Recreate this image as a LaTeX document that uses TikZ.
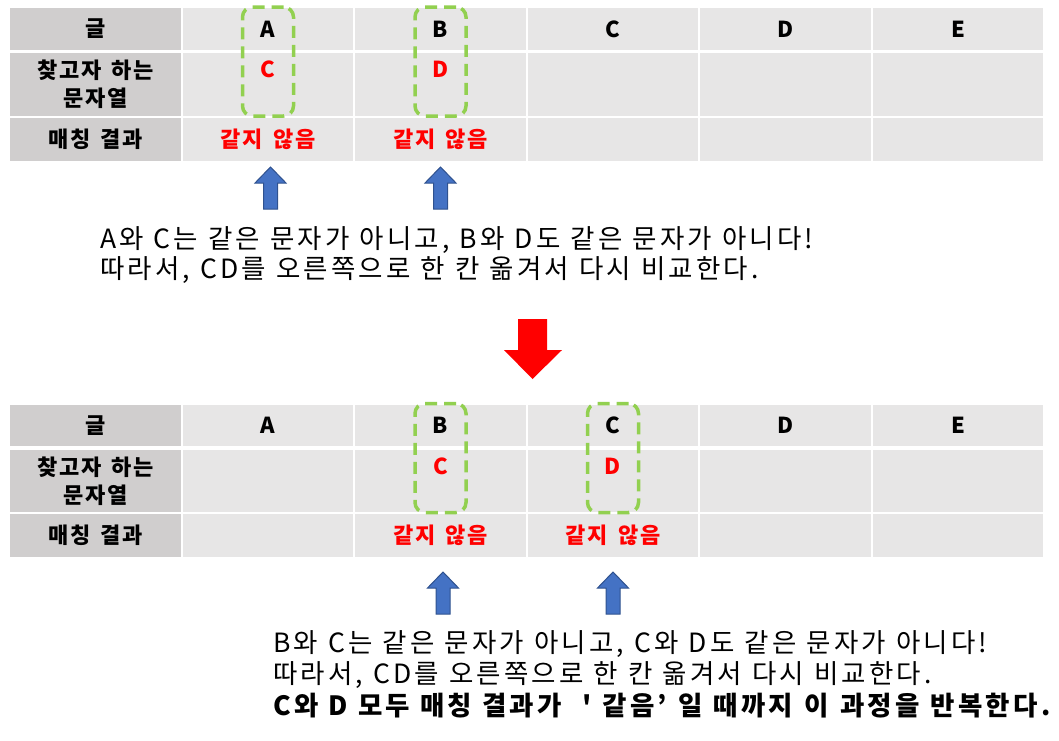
\documentclass[tikz,border=0pt]{standalone}
\usepackage{fontspec}
\setmainfont{Noto Sans CJK KR}
\newfontfamily\cellfamily[LetterSpace=8,WordSpace=1.5]{Noto Sans CJK KR}
\newfontfamily\notefamily[LetterSpace=12,WordSpace=1.1]{Noto Sans CJK KR}
\usepackage{xcolor}
\usepackage{tikz}

\definecolor{headgray}{HTML}{D0CECE}
\definecolor{cellgray}{HTML}{E7E6E6}
\definecolor{matchgreen}{HTML}{92D050}
\definecolor{arrowblue}{HTML}{4472C4}
\definecolor{arrowedge}{HTML}{2F528F}

\newcommand{\cellfont}{\cellfamily\fontsize{22}{28}\selectfont\bfseries}
\newcommand{\notefont}{\notefamily\fontsize{26.5}{30}\selectfont}
\newcommand{\straightquote}{{\addfontfeature{Ligatures=TeXOff}'}}
% block arrow pointing up, tip at (#1,#2)
\newcommand{\blueup}[2]{%
  \draw [pointer] (#1-7,#2+42) -- (#1-7,#2+16) -- (#1-15.5,#2+16) -- (#1,#2)
    -- (#1+15.5,#2+16) -- (#1+7,#2+16) -- (#1+7,#2+42) -- cycle;}

\begin{document}
\begin{tikzpicture}[x=1pt, y=-1pt]
    \tikzstyle{head} = [rectangle, fill=headgray, minimum width=171pt, inner sep=0pt, text centered, align=center, font=\cellfont]
    \tikzstyle{cell} = [rectangle, fill=cellgray, minimum width=170.5pt, inner sep=0pt, text centered, align=center, font=\cellfont]
    \tikzstyle{miss} = [text=red]
    \tikzstyle{matchbox} = [rectangle, rounded corners=10pt, draw=matchgreen, line width=3.5pt, dash pattern=on 12pt off 7pt, minimum width=51pt, minimum height=109pt]
    \tikzstyle{pointer} = [fill=arrowblue, draw=arrowedge, line width=1pt]
    \tikzstyle{note} = [anchor=base west, inner sep=0pt, font=\notefont]

    \useasboundingbox (0,0) rectangle (1059,740);

    % Top table: text row
    \node [head, minimum height=42pt] (t_text) at (95.5,29) {글};
    \node [cell, minimum height=42pt] (t_a) at (268,29) {A};
    \node [cell, minimum height=42pt] (t_b) at (440.5,29) {B};
    \node [cell, minimum height=42pt] (t_c) at (613,29) {C};
    \node [cell, minimum height=42pt] (t_d) at (785.5,29) {D};
    \node [cell, minimum height=42pt] (t_e) at (958,29) {E};

    % Top table: pattern row
    \node [head, minimum height=63pt] (t_pat) at (95.5,84.5) {찾고자 하는\\문자열};
    \node [cell, miss, minimum height=63pt] (t_pa) at (268,84.5) {C\\\phantom{문자열}};
    \node [cell, miss, minimum height=63pt] (t_pb) at (440.5,84.5) {D\\\phantom{문자열}};
    \node [cell, minimum height=63pt] (t_pc) at (613,84.5) {};
    \node [cell, minimum height=63pt] (t_pd) at (785.5,84.5) {};
    \node [cell, minimum height=63pt] (t_pe) at (958,84.5) {};

    % Top table: result row
    \node [head, minimum height=43pt] (t_res) at (95.5,139.5) {매칭 결과};
    \node [cell, miss, minimum height=43pt] (t_ra) at (268,139.5) {같지 않음};
    \node [cell, miss, minimum height=43pt] (t_rb) at (440.5,139.5) {같지 않음};
    \node [cell, minimum height=43pt] (t_rc) at (613,139.5) {};
    \node [cell, minimum height=43pt] (t_rd) at (785.5,139.5) {};
    \node [cell, minimum height=43pt] (t_re) at (958,139.5) {};

    % Top table: compared columns
    \node [matchbox] (t_boxa) at (268,61.5) {};
    \node [matchbox] (t_boxb) at (440.5,61.5) {};

    \blueup{270.5}{167}
    \blueup{440.5}{167}

    \node [note] (t_note1) at (100,248) {A와 C는 같은 문자가 아니고, B와 D도 같은 문자가 아니다!};
    \node [note] (t_note2) at (100,278) {따라서, CD를 오른쪽으로 한 칸 옮겨서 다시 비교한다.};

    % Shift to the next step
    \draw [fill=red, draw=none] (518,319) -- (547,319) -- (547,350) -- (562,350) -- (532.5,379)
      -- (504,350) -- (518,350) -- cycle;

    % Bottom table: text row
    \node [head, minimum height=41pt] (b_text) at (95.5,425.5) {글};
    \node [cell, minimum height=41pt] (b_a) at (268,425.5) {A};
    \node [cell, minimum height=41pt] (b_b) at (440.5,425.5) {B};
    \node [cell, minimum height=41pt] (b_c) at (613,425.5) {C};
    \node [cell, minimum height=41pt] (b_d) at (785.5,425.5) {D};
    \node [cell, minimum height=41pt] (b_e) at (958,425.5) {E};

    % Bottom table: pattern row
    \node [head, minimum height=62pt] (b_pat) at (95.5,481) {찾고자 하는\\문자열};
    \node [cell, minimum height=62pt] (b_pa) at (268,481) {};
    \node [cell, miss, minimum height=62pt] (b_pb) at (440.5,481) {C\\\phantom{문자열}};
    \node [cell, miss, minimum height=62pt] (b_pc) at (613,481) {D\\\phantom{문자열}};
    \node [cell, minimum height=62pt] (b_pd) at (785.5,481) {};
    \node [cell, minimum height=62pt] (b_pe) at (958,481) {};

    % Bottom table: result row
    \node [head, minimum height=43pt] (b_res) at (95.5,535.5) {매칭 결과};
    \node [cell, minimum height=43pt] (b_ra) at (268,535.5) {};
    \node [cell, miss, minimum height=43pt] (b_rb) at (440.5,535.5) {같지 않음};
    \node [cell, miss, minimum height=43pt] (b_rc) at (613,535.5) {같지 않음};
    \node [cell, minimum height=43pt] (b_rd) at (785.5,535.5) {};
    \node [cell, minimum height=43pt] (b_re) at (958,535.5) {};

    % Bottom table: compared columns
    \node [matchbox] (b_boxb) at (440.5,458) {};
    \node [matchbox] (b_boxc) at (613,458) {};

    \blueup{443}{572}
    \blueup{613}{572}

    \node [note] (b_note1) at (273,652) {B와 C는 같은 문자가 아니고, C와 D도 같은 문자가 아니다!};
    \node [note] (b_note2) at (273,683) {따라서, CD를 오른쪽으로 한 칸 옮겨서 다시 비교한다.};
    \node [note, font=\notefont\bfseries] (b_note3) at (273,715) {C와 D 모두 매칭 결과가 \ \straightquote\ 같음’ 일 때까지 이 과정을 반복한다.};
\end{tikzpicture}
\end{document}
